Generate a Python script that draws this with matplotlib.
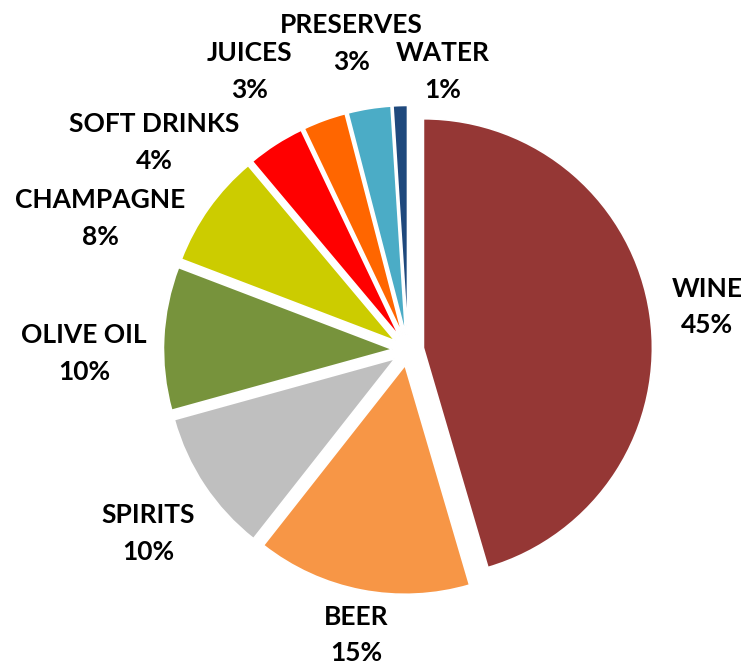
import matplotlib.pyplot as plt
import numpy as np

categories = ['WINE', 'BEER', 'SPIRITS', 'OLIVE OIL', 'CHAMPAGNE',
              'SOFT DRINKS', 'JUICES', 'PRESERVES', 'WATER']
shares = [45, 15, 10, 10, 8, 4, 3, 3, 1]
colors = ['#953735', '#F79646', '#BFBFBF', '#77933C', '#CCCC00',
          '#FF0000', '#FF6600', '#4BACC6', '#1F497D']

# label placement: (angle shift from wedge middle in degrees, radius factor)
label_place = [(0.0, 1.32), (0.6, 1.265), (1.6, 1.39), (3.4, 1.415), (12.3, 1.46),
               (18.0, 1.43), (9.7, 1.40), (1.4, 1.36), (-9.0, 1.225)]

plt.rcParams['font.family'] = ['Lato', 'DejaVu Sans']

fig = plt.figure(figsize=(7.48, 6.67), dpi=100)
ax = fig.add_axes([0, 0, 1, 1])

wedges, _ = ax.pie(shares, colors=colors, startangle=90, counterclock=False,
                   explode=[0.068] * len(shares), radius=1.0,
                   wedgeprops=dict(edgecolor='white', linewidth=1.2))

# name above, percentage below, each as its own text
half_gap = 13.3  # points
for w, name, val, (shift, rf) in zip(wedges, categories, shares, label_place):
    mid = np.deg2rad((w.theta1 + w.theta2) / 2 + shift)
    xy = (rf * np.cos(mid), rf * np.sin(mid))
    for txt, dy in ((name, half_gap), (f'{val}%', -half_gap)):
        ax.annotate(txt, xy, xytext=(0, dy), textcoords='offset points',
                    ha='center', va='center', fontsize=19, fontweight='bold',
                    color='black')

ax.set_xlim(-408 / 229, 340 / 229)
ax.set_ylim(-317 / 229, 350 / 229)
ax.set_aspect('equal')
ax.axis('off')

fig.savefig('out.png', dpi=100)
